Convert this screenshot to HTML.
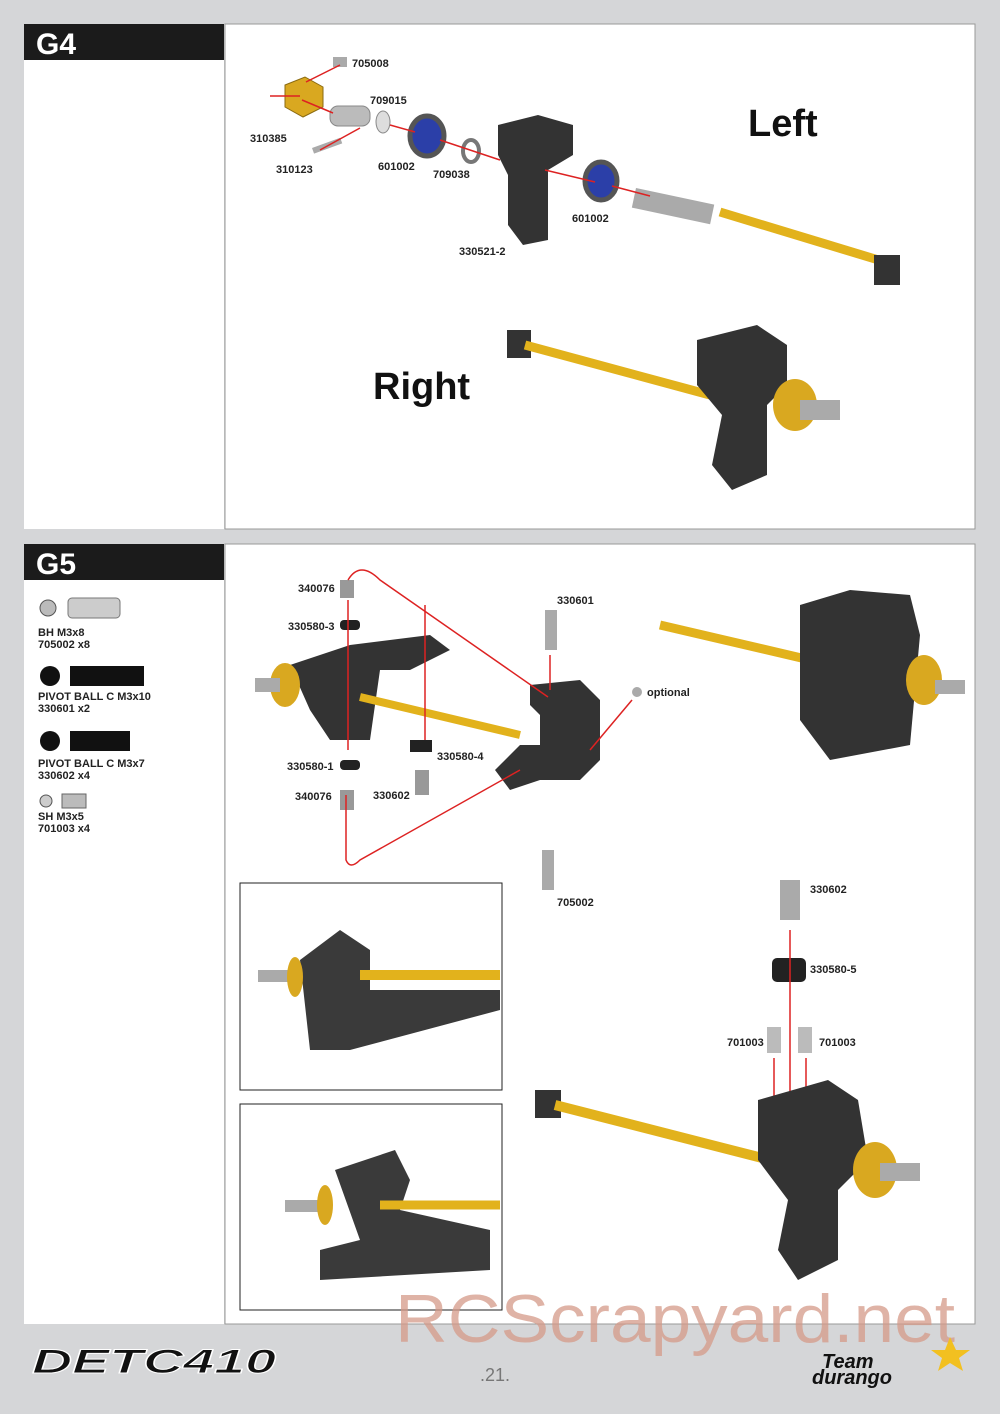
<!DOCTYPE html>
<html><head><meta charset="utf-8"><style>
html,body{margin:0;padding:0;background:#d5d6d8;}
svg{display:block;font-family:"Liberation Sans",sans-serif;}
.l{font-size:11px;font-weight:bold;fill:#222;font-family:"Liberation Sans Narrow","Liberation Sans",sans-serif;}
</style></head><body>
<svg width="1000" height="1414" viewBox="0 0 1000 1414" xmlns="http://www.w3.org/2000/svg">
<rect width="1000" height="1414" fill="#d5d6d8"/>
<rect x="24" y="24" width="200" height="505" fill="#fff"/>
<rect x="225" y="24" width="750" height="505" fill="#fff" stroke="#999"/>
<rect x="24" y="24" width="200" height="36" fill="#1b1b1b"/>
<text x="36" y="54" font-size="30" font-weight="bold" fill="#fff">G4</text>
<rect x="24" y="544" width="200" height="780" fill="#fff"/>
<rect x="225" y="544" width="750" height="780" fill="#fff" stroke="#999"/>
<rect x="24" y="544" width="200" height="36" fill="#1b1b1b"/>
<text x="36" y="574" font-size="30" font-weight="bold" fill="#fff">G5</text>

<path d="M285 85 l20 -8 l18 10 l0 20 l-20 10 l-18 -10z" fill="#d9a820" stroke="#8a6a10"/>
<rect x="330" y="106" width="40" height="20" rx="8" fill="#bbb" stroke="#888"/>
<rect x="312" y="148" width="30" height="6" fill="#aaa" transform="rotate(-20 312 148)"/>
<rect x="333" y="57" width="14" height="10" fill="#aaa"/>
<ellipse cx="383" cy="122" rx="7" ry="11" fill="#ddd" stroke="#888"/>
<ellipse cx="427" cy="136" rx="17" ry="20" fill="#2b3fa8" stroke="#555" stroke-width="5"/>
<ellipse cx="471" cy="151" rx="8" ry="11" fill="none" stroke="#777" stroke-width="4"/>
<path d="M498 125 l40 -10 l35 10 l0 30 l-25 15 l0 70 l-25 5 l-15 -20 l0 -50 l-10 -20z" fill="#333"/>
<ellipse cx="601" cy="181" rx="16" ry="19" fill="#2b3fa8" stroke="#555" stroke-width="5"/>
<rect x="636" y="188" width="80" height="20" fill="#aaa" transform="rotate(12 636 188)"/>
<line x1="720" y1="212" x2="885" y2="262" stroke="#e2b21c" stroke-width="9"/>
<rect x="874" y="255" width="26" height="30" fill="#333"/>
<g stroke="#d22" stroke-width="1.5" fill="none">
<line x1="270" y1="96" x2="300" y2="96"/><line x1="302" y1="100" x2="333" y2="113"/><line x1="340" y1="65" x2="306" y2="82"/>
<line x1="320" y1="150" x2="360" y2="128"/><line x1="390" y1="125" x2="415" y2="132"/><line x1="440" y1="140" x2="500" y2="160"/>
<line x1="545" y1="170" x2="595" y2="182"/><line x1="612" y1="186" x2="650" y2="196"/></g>
<text class="l" x="352" y="67">705008</text><text class="l" x="370" y="104">709015</text>
<text class="l" x="250" y="142">310385</text><text class="l" x="276" y="173">310123</text>
<text class="l" x="378" y="170">601002</text><text class="l" x="433" y="178">709038</text>
<text class="l" x="572" y="222">601002</text><text class="l" x="459" y="255">330521-2</text>
<text x="748" y="136" font-size="38" font-weight="bold" fill="#111">Left</text>
<text x="373" y="399" font-size="38" font-weight="bold" fill="#111">Right</text>
<rect x="507" y="330" width="24" height="28" fill="#333"/>
<line x1="525" y1="345" x2="710" y2="395" stroke="#e2b21c" stroke-width="9"/>
<path d="M697 340 l60 -15 l30 20 l0 40 l-20 20 l0 70 l-35 15 l-20 -25 l10 -50 l-25 -30z" fill="#333"/>
<ellipse cx="795" cy="405" rx="22" ry="26" fill="#d9a820"/>
<rect x="800" y="400" width="40" height="20" fill="#aaa"/>

<circle cx="48" cy="608" r="8" fill="#bbb" stroke="#555"/><rect x="68" y="598" width="52" height="20" rx="4" fill="#ccc" stroke="#777"/>
<text class="l" x="38" y="636">BH  M3x8</text><text class="l" x="38" y="648">705002  x8</text>
<circle cx="50" cy="676" r="10" fill="#111"/><rect x="70" y="666" width="74" height="20" fill="#111"/>
<text class="l" x="38" y="700">PIVOT BALL C  M3x10</text><text class="l" x="38" y="712">330601  x2</text>
<circle cx="50" cy="741" r="10" fill="#111"/><rect x="70" y="731" width="60" height="20" fill="#111"/>
<text class="l" x="38" y="767">PIVOT BALL C  M3x7</text><text class="l" x="38" y="779">330602  x4</text>
<circle cx="46" cy="801" r="6" fill="#ccc" stroke="#555"/><rect x="62" y="794" width="24" height="14" fill="#bbb" stroke="#666"/>
<text class="l" x="38" y="820">SH  M3x5</text><text class="l" x="38" y="832">701003  x4</text>

<path d="M290 665 l60 -20 l80 -10 l20 15 l-40 20 l-30 0 l-10 70 l-40 0 l-20 -30z" fill="#333"/>
<ellipse cx="285" cy="685" rx="15" ry="22" fill="#d9a820"/><rect x="255" y="678" width="25" height="14" fill="#aaa"/>
<line x1="360" y1="697" x2="520" y2="735" stroke="#e2b21c" stroke-width="8"/>
<rect x="340" y="580" width="14" height="18" fill="#999"/><rect x="340" y="620" width="20" height="10" rx="4" fill="#222"/>
<rect x="340" y="760" width="20" height="10" rx="4" fill="#222"/><rect x="340" y="790" width="14" height="20" fill="#999"/>
<rect x="410" y="740" width="22" height="12" fill="#222"/><rect x="415" y="770" width="14" height="25" fill="#999"/>
<path d="M530 685 l50 -5 l20 20 l0 60 l-20 20 l-40 0 l-30 10 l-15 -20 l25 -25 l20 0 l0 -30 l-10 -10z" fill="#333"/>
<rect x="545" y="610" width="12" height="40" fill="#aaa"/><rect x="542" y="850" width="12" height="40" fill="#aaa"/>
<circle cx="637" cy="692" r="5" fill="#aaa"/>
<g stroke="#d22" stroke-width="1.5" fill="none">
<path d="M348 580 Q360 560 380 580 L548 697"/><path d="M346 795 L346 860 Q350 870 360 860 L520 770"/>
<line x1="425" y1="605" x2="425" y2="740"/><line x1="348" y1="600" x2="348" y2="750"/>
<line x1="550" y1="655" x2="550" y2="690"/><line x1="632" y1="700" x2="590" y2="750"/></g>
<text class="l" x="298" y="592">340076</text><text class="l" x="288" y="630">330580-3</text>
<text class="l" x="557" y="604">330601</text><text class="l" x="647" y="696">optional</text>
<text class="l" x="437" y="760">330580-4</text><text class="l" x="287" y="770">330580-1</text>
<text class="l" x="373" y="799">330602</text><text class="l" x="295" y="800">340076</text>
<text class="l" x="557" y="906">705002</text>
<line x1="660" y1="625" x2="810" y2="660" stroke="#e2b21c" stroke-width="9"/>
<path d="M800 605 l50 -15 l60 5 l10 40 l-10 110 l-80 15 l-30 -40z" fill="#333"/>
<ellipse cx="924" cy="680" rx="18" ry="25" fill="#d9a820"/><rect x="935" y="680" width="30" height="14" fill="#aaa"/>
<rect x="240" y="883" width="262" height="207" fill="#fff" stroke="#222"/>
<path d="M300 960 l40 -30 l30 20 l0 40 l130 0 l0 20 l-150 40 l-40 0z" fill="#3a3a3a"/>
<line x1="360" y1="975" x2="500" y2="975" stroke="#e2b21c" stroke-width="10"/>
<rect x="258" y="970" width="40" height="12" fill="#aaa"/><ellipse cx="295" cy="977" rx="8" ry="20" fill="#d9a820"/>
<rect x="240" y="1104" width="262" height="206" fill="#fff" stroke="#222"/>
<path d="M335 1170 l60 -20 l15 30 l-10 30 l90 20 l0 40 l-170 10 l0 -30 l40 -10z" fill="#3a3a3a"/>
<line x1="380" y1="1205" x2="500" y2="1205" stroke="#e2b21c" stroke-width="9"/>
<rect x="285" y="1200" width="40" height="12" fill="#aaa"/><ellipse cx="325" cy="1205" rx="8" ry="20" fill="#d9a820"/>
<rect x="780" y="880" width="20" height="40" fill="#aaa"/><rect x="772" y="958" width="34" height="24" rx="5" fill="#222"/>
<rect x="767" y="1027" width="14" height="26" fill="#bbb"/><rect x="798" y="1027" width="14" height="26" fill="#bbb"/>
<g stroke="#d22" stroke-width="1.5"><line x1="790" y1="930" x2="790" y2="1100"/><line x1="774" y1="1058" x2="774" y2="1100"/><line x1="806" y1="1058" x2="806" y2="1100"/></g>
<text class="l" x="810" y="893">330602</text><text class="l" x="810" y="973">330580-5</text>
<text class="l" x="727" y="1046">701003</text><text class="l" x="819" y="1046">701003</text>
<rect x="535" y="1090" width="26" height="28" fill="#333"/>
<line x1="555" y1="1105" x2="770" y2="1160" stroke="#e2b21c" stroke-width="10"/>
<path d="M758 1100 l70 -20 l30 20 l10 60 l-30 30 l0 70 l-40 20 l-20 -30 l10 -50 l-30 -40z" fill="#333"/>
<ellipse cx="875" cy="1170" rx="22" ry="28" fill="#d9a820"/><rect x="880" y="1163" width="40" height="18" fill="#aaa"/>

<text x="395" y="1342" font-size="68" fill="#d49a88" fill-opacity="0.75" textLength="560" lengthAdjust="spacingAndGlyphs">RCScrapyard.net</text>
<text x="32" y="1373" font-size="34" font-weight="bold" font-style="italic" fill="#111" stroke="#fff" stroke-width="1" textLength="244" lengthAdjust="spacingAndGlyphs">DETC410</text>
<text x="480" y="1381" font-size="18" fill="#777">.21.</text>
<text x="822" y="1368" font-size="20" font-weight="bold" font-style="italic" fill="#111">Team</text>
<text x="812" y="1384" font-size="20" font-weight="bold" font-style="italic" fill="#111">durango</text>
<polygon points="950,1337 956,1350 970,1350 959,1358 963,1371 950,1363 938,1371 942,1358 931,1350 945,1350" fill="#f2c020"/>
</svg>
</body></html>
